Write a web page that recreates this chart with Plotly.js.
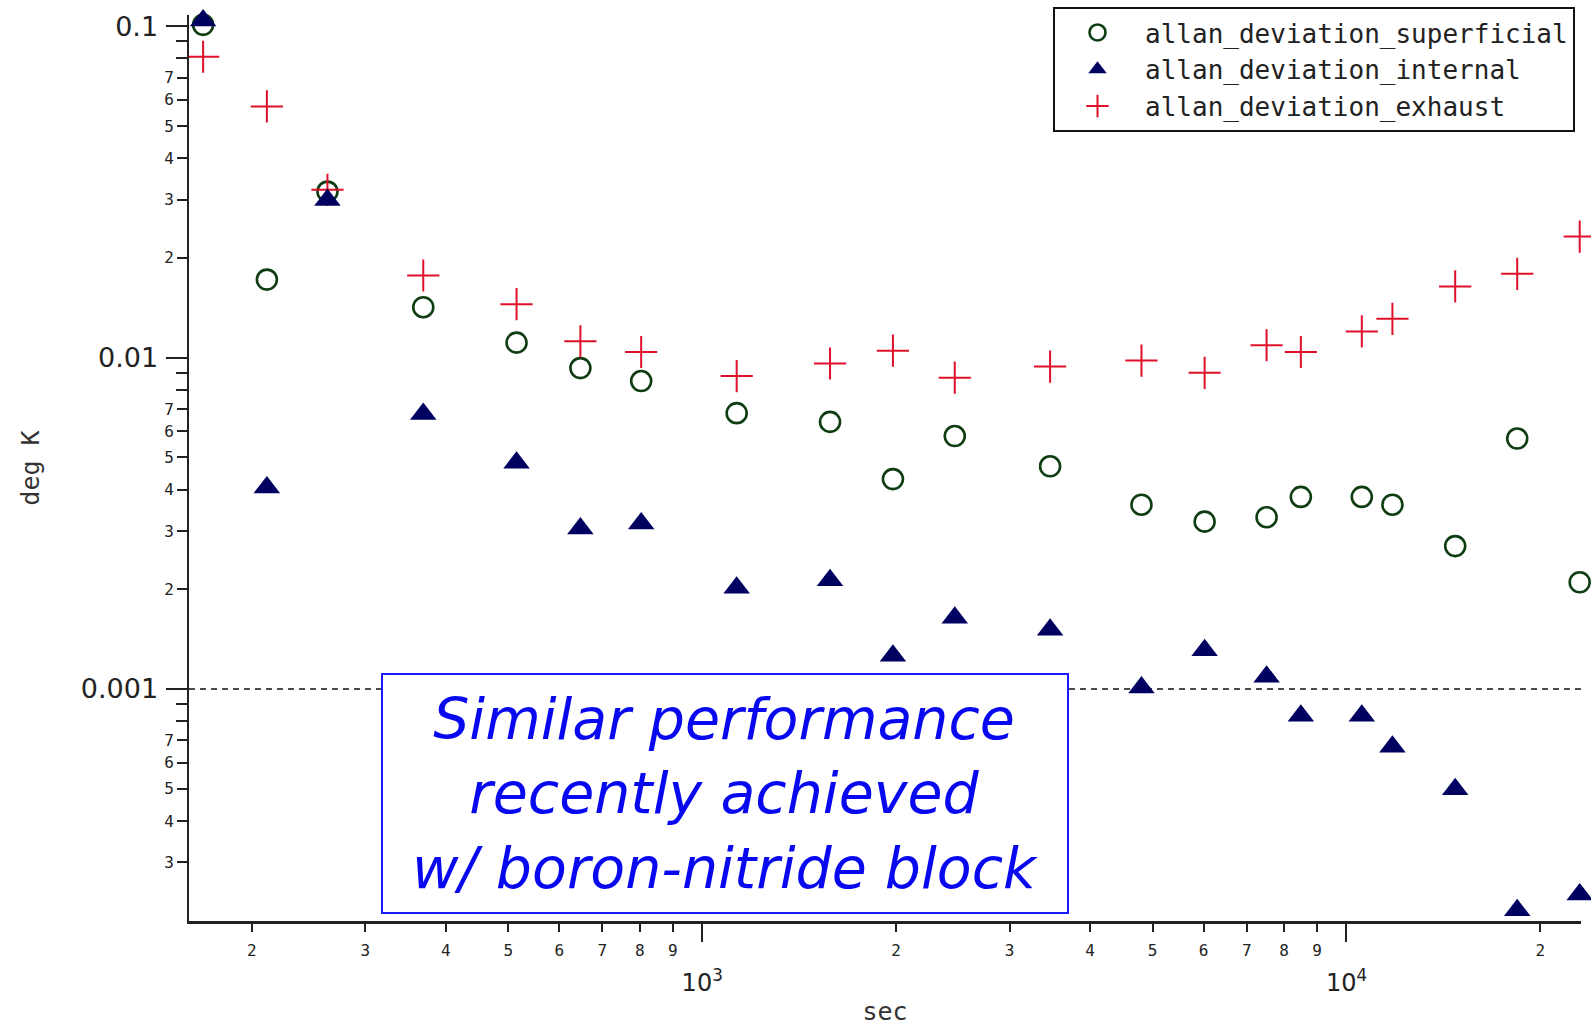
<!DOCTYPE html>
<html>
<head>
<meta charset="utf-8">
<script src="https://cdn.plot.ly/plotly-3.0.1.min.js"></script>
<style>
  html, body { margin: 0; padding: 0; background: #ffffff; }
  #chart { width: 1591px; height: 1026px; }
</style>
</head>
<body>
<div id="chart"></div>
<script>
// ---- data ----
const tau = [168, 211, 262, 369, 515, 647, 804, 1131, 1579, 1977, 2466, 3467, 4806, 6023, 7516, 8495, 10563, 11784, 14748, 18407, 23014];
const superficial = [0.101, 0.0172, 0.0317, 0.0142, 0.0111, 0.0093, 0.0085, 0.0068, 0.0064, 0.0043, 0.0058, 0.0047, 0.0036, 0.0032, 0.0033, 0.0038, 0.0038, 0.0036, 0.0027, 0.0057, 0.0021];
const internal = [0.104, 0.00406, 0.0299, 0.00676, 0.00482, 0.00305, 0.00316, 0.00202, 0.00213, 0.00126, 0.00164, 0.00151, 0.00101, 0.00131, 0.00109, 0.00083, 0.00083, 0.00067, 0.000498, 0.000215, 0.00024];
const exhaust = [0.0809, 0.0573, 0.0321, 0.0177, 0.0145, 0.0112, 0.0104, 0.0088, 0.0096, 0.0105, 0.0087, 0.0094, 0.0098, 0.0090, 0.0109, 0.0104, 0.0120, 0.0131, 0.0164, 0.0179, 0.0232];
const seriesNames = ['allan_deviation_superficial', 'allan_deviation_internal', 'allan_deviation_exhaust'];
const threshold = 0.001;

// tick values / labels
const xMajorVals = [1000, 10000];
const xMajorText = ['10<sup>3</sup>', '10<sup>4</sup>'];
const xMinorVals = [200, 300, 400, 500, 600, 700, 800, 900, 2000, 3000, 4000, 5000, 6000, 7000, 8000, 9000, 20000];
const xMinorText = ['2', '3', '4', '5', '6', '7', '8', '9', '2', '3', '4', '5', '6', '7', '8', '9', '2'];
const yMajorVals = [0.001, 0.01, 0.1];
const yMajorText = ['0.001', '0.01', '0.1'];
const yMinorVals = [0.0003, 0.0004, 0.0005, 0.0006, 0.0007, 0.002, 0.003, 0.004, 0.005, 0.006, 0.007, 0.02, 0.03, 0.04, 0.05, 0.06, 0.07];
const yMinorText = ['3', '4', '5', '6', '7', '2', '3', '4', '5', '6', '7', '2', '3', '4', '5', '6', '7'];
const yUnlabeledVals = [0.0008, 0.0009, 0.008, 0.009, 0.08, 0.09];
const noteText = 'Similar performance<br>recently achieved<br>w/ boron-nitride block';

const xRange = [2.2034, 4.364];
const yRange = [-3.700, -0.966];
const axisColor = '#222222';
const mono = '"DejaVu Sans Mono", monospace';
const sans = '"DejaVu Sans", sans-serif';

const traces = [
  {
    x: tau, y: superficial, name: seriesNames[0], type: 'scatter', mode: 'markers', cliponaxis: false,
    xaxis: 'x', yaxis: 'y',
    marker: { symbol: 'circle-open', size: 20, color: '#0e3d12', line: { width: 2.6, color: '#0e3d12' } }
  },
  {
    x: tau, y: internal, name: seriesNames[1], type: 'scatter', mode: 'markers', cliponaxis: false,
    xaxis: 'x2', yaxis: 'y2',
    marker: { symbol: 'triangle-up', size: 23, color: '#000060', line: { width: 0 } }
  },
  {
    x: tau, y: exhaust, name: seriesNames[2], type: 'scatter', mode: 'markers', cliponaxis: false,
    xaxis: 'x', yaxis: 'y',
    marker: { symbol: 'cross-thin-open', size: 23, color: '#e0102a', line: { width: 2, color: '#e0102a' } }
  }
];

const baseAxis = {
  type: 'log', showgrid: false, zeroline: false, ticks: 'outside',
  tickcolor: axisColor, tickwidth: 2, tickmode: 'array', automargin: false
};

const layout = {
  width: 1591, height: 1026,
  margin: { l: 189, r: 10, t: 15, b: 105, autoexpand: false },
  paper_bgcolor: '#ffffff', plot_bgcolor: '#ffffff',
  showlegend: true,
  xaxis: Object.assign({}, baseAxis, {
    range: xRange, showline: true, linecolor: axisColor, linewidth: 2.5,
    tickvals: xMajorVals, ticktext: xMajorText, ticklen: 18,
    tickfont: { family: sans, size: 24, color: axisColor }, ticklabelstandoff: 21,
    title: { text: 'sec', font: { family: mono, size: 25, color: '#333333' }, standoff: 7 }
  }),
  xaxis2: Object.assign({}, baseAxis, {
    range: xRange, overlaying: 'x', anchor: 'y2', side: 'bottom', showline: false,
    tickvals: xMinorVals, ticktext: xMinorText, ticklen: 10, ticklabelstandoff: 5,
    tickfont: { family: mono, size: 16, color: axisColor }
  }),
  yaxis: Object.assign({}, baseAxis, {
    range: yRange, showline: true, linecolor: axisColor, linewidth: 2.5,
    tickvals: yMajorVals, ticktext: yMajorText, ticklen: 21,
    tickfont: { family: sans, size: 27, color: axisColor }, ticklabelstandoff: 2,
    minor: { tickmode: 'array', tickvals: yUnlabeledVals, ticks: 'outside', ticklen: 11, tickwidth: 2, tickcolor: axisColor, showgrid: false },
    title: { text: 'deg K', font: { family: mono, size: 25, color: '#333333' }, standoff: 34 }
  }),
  yaxis2: Object.assign({}, baseAxis, {
    range: yRange, overlaying: 'y', anchor: 'x2', side: 'left', showline: false,
    tickvals: yMinorVals, ticktext: yMinorText, ticklen: 11,
    tickfont: { family: mono, size: 16, color: axisColor }
  }),
  legend: {
    x: 0.6207, y: 1.0088, xanchor: 'left', yanchor: 'top',
    bgcolor: '#ffffff', bordercolor: '#111111', borderwidth: 2,
    font: { family: mono, size: 26, color: '#222222' },
    itemwidth: 85, tracegroupgap: 0, indentation: -5,
    traceorder: 'normal'
  },
  shapes: [
    {
      type: 'line', xref: 'paper', yref: 'y', x0: 0, x1: 1, y0: threshold, y1: threshold,
      layer: 'below', line: { color: '#111111', width: 1.5, dash: '6px,5px' }
    }
  ],
  annotations: [
    {
      xref: 'paper', yref: 'paper', x: 0.3854, y: 0.1407, xanchor: 'center', yanchor: 'middle',
      text: noteText, showarrow: false, align: 'center',
      width: 684, height: 237, borderpad: 0, borderwidth: 2,
      bordercolor: '#1a1aff', bgcolor: '#ffffff',
      font: { family: sans, size: 57, style: 'italic', color: '#0808f0' }
    }
  ]
};

Plotly.newPlot('chart', traces, layout, { displayModeBar: false, staticPlot: true });
</script>
</body>
</html>
